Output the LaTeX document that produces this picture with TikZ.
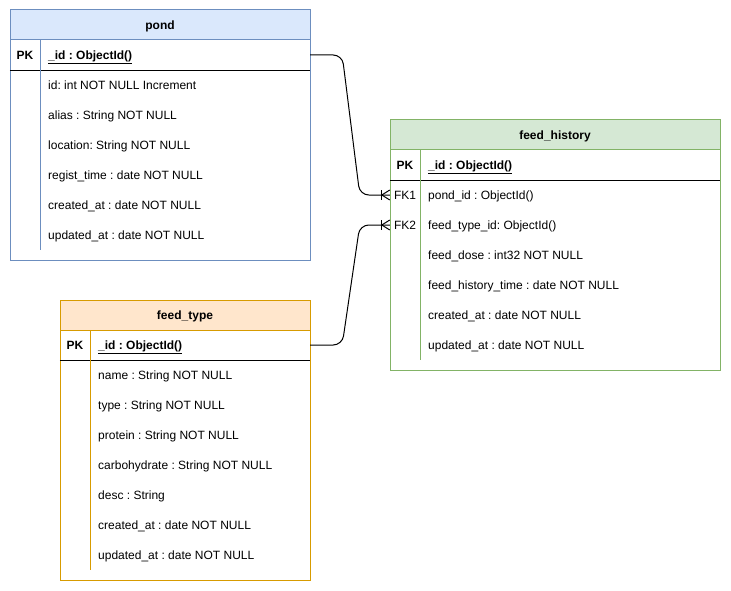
\documentclass[tikz,border=0pt]{standalone}
\usepackage{fontspec}
\setmainfont{Liberation Sans}
\usetikzlibrary{calc}
\frenchspacing
\definecolor{pondline}{HTML}{6C8EBF}
\definecolor{pondfill}{HTML}{DAE8FC}
\definecolor{histline}{HTML}{82B366}
\definecolor{histfill}{HTML}{D5E8D4}
\definecolor{typeline}{HTML}{D79B00}
\definecolor{typefill}{HTML}{FFE6CC}
\begin{document}
\begin{tikzpicture}[x=1pt,y=-1pt,
  font=\fontsize{12}{14}\selectfont,
  tbl/.style={draw=#1, line width=1pt, fill=white, inner sep=0pt},
  hdr/.style 2 args={draw=#1, fill=#2, line width=1pt, inner sep=0pt,
    minimum height=30pt, text height=9pt, text depth=0pt,
    font=\fontsize{12}{14}\selectfont\bfseries},
  rowbox/.style={inner sep=0pt, minimum height=30pt},
  keyrule/.style={draw=black, line width=1pt},
  colrule/.style={draw=#1, line width=1pt},
  keytxt/.style={inner sep=0pt, anchor=center, text height=9pt, text depth=0pt},
  pktxt/.style={inner sep=0pt, anchor=west, text height=9pt, text depth=0pt,
    font=\fontsize{12}{14}\selectfont\bfseries},
  fieldtxt/.style={inner sep=0pt, anchor=west, text height=9pt, text depth=0pt},
  conn/.style={draw=black, line width=1pt, rounded corners=9pt},
  crowfoot/.pic={\draw[line width=1pt] (-8,-5) -- (-8,5);
                 \draw[line width=1pt] (0,-5) -- (-8,0) -- (0,5);}
]
\useasboundingbox (0,0) rectangle (731,591);

% ---------- pond ----------
\node[tbl=pondline, minimum width=300pt, minimum height=250pt] (pond) at (160,135) {};
\node[hdr={pondline}{pondfill}, minimum width=300pt] (pond-h) at (160,25) {pond};
\node[rowbox, minimum width=300pt] (pond-pk) at (160,55) {};
\draw[keyrule] (pond-pk.south west) -- (pond-pk.south east);
\draw[colrule=pondline] (40,40) -- (40,250);
\node[keytxt, font=\fontsize{12}{14}\selectfont\bfseries] (pond-pkk) at (25,55) {PK};
\node[pktxt] (pond-pkf) at (48,55) {\underline{\_id : ObjectId()}};
\foreach \t [count=\i] in {id: int NOT NULL Increment, alias : String NOT NULL,
  location: String NOT NULL, regist\_time : date NOT NULL,
  created\_at : date NOT NULL, updated\_at : date NOT NULL}
  \node[fieldtxt] (pond-r\i) at (48,{55+30*\i}) {\t};

% ---------- feed_history ----------
\node[tbl=histline, minimum width=330pt, minimum height=250pt] (hist) at (555,245) {};
\node[hdr={histline}{histfill}, minimum width=330pt] (hist-h) at (555,135) {feed\_history};
\node[rowbox, minimum width=330pt] (hist-pk) at (555,165) {};
\node[rowbox, minimum width=330pt] (hist-fk1) at (555,195) {};
\node[rowbox, minimum width=330pt] (hist-fk2) at (555,225) {};
\draw[keyrule] (hist-pk.south west) -- (hist-pk.south east);
\draw[colrule=histline] (420,150) -- (420,360);
\node[keytxt, font=\fontsize{12}{14}\selectfont\bfseries] (hist-pkk) at (405,165) {PK};
\node[pktxt] (hist-pkf) at (428,165) {\underline{\_id : ObjectId()}};
\node[keytxt] (hist-fk1k) at (405,195) {FK1};
\node[keytxt] (hist-fk2k) at (405,225) {FK2};
\foreach \t [count=\i] in {pond\_id : ObjectId(), feed\_type\_id: ObjectId(),
  feed\_dose : int32 NOT NULL, feed\_history\_time : date NOT NULL,
  created\_at : date NOT NULL, updated\_at : date NOT NULL}
  \node[fieldtxt] (hist-r\i) at (428,{165+30*\i}) {\t};

% ---------- feed_type ----------
\node[tbl=typeline, minimum width=250pt, minimum height=280pt] (type) at (185,440) {};
\node[hdr={typeline}{typefill}, minimum width=250pt] (type-h) at (185,315) {feed\_type};
\node[rowbox, minimum width=250pt] (type-pk) at (185,345) {};
\draw[keyrule] (type-pk.south west) -- (type-pk.south east);
\draw[colrule=typeline] (90,330) -- (90,570);
\node[keytxt, font=\fontsize{12}{14}\selectfont\bfseries] (type-pkk) at (75,345) {PK};
\node[pktxt] (type-pkf) at (98,345) {\underline{\_id : ObjectId()}};
\foreach \t [count=\i] in {name : String NOT NULL, type : String NOT NULL,
  protein : String NOT NULL, carbohydrate : String NOT NULL, desc : String,
  created\_at : date NOT NULL, updated\_at : date NOT NULL}
  \node[fieldtxt] (type-r\i) at (98,{345+30*\i}) {\t};

% ---------- relations ----------
\draw[conn] (pond-pk.east) -- ++(32,0) -- ($(hist-fk1.west)+(-30,0)$) -- (hist-fk1.west);
\draw[conn] (type-pk.east) -- ++(32,0) -- ($(hist-fk2.west)+(-30,0)$) -- (hist-fk2.west);
\pic at (hist-fk1.west) {crowfoot};
\pic at (hist-fk2.west) {crowfoot};
\end{tikzpicture}
\end{document}
